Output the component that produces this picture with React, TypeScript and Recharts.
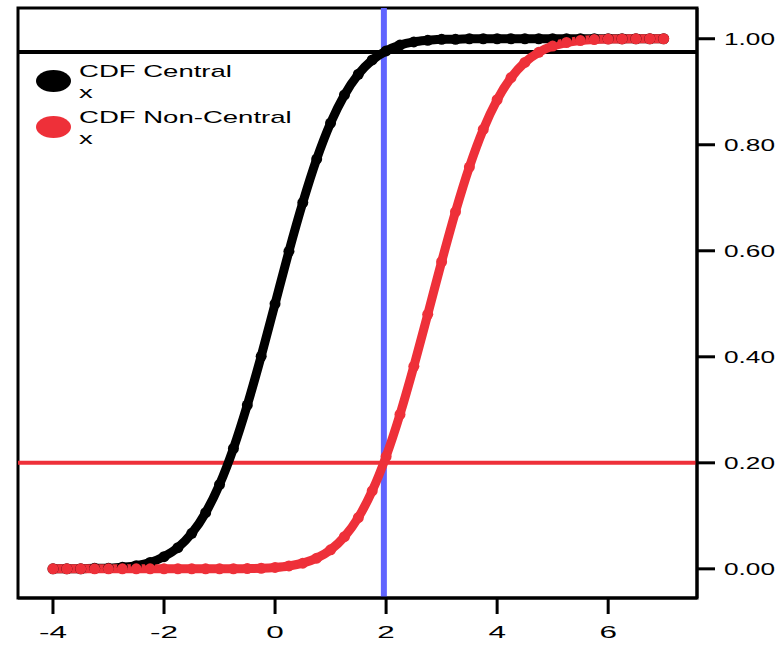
import React from 'react';
import { LineChart, Line, XAxis, YAxis, ReferenceLine, ReferenceArea, Legend } from 'recharts';

// x grid and the two CDF curves
const xValues = [
  -4, -3.75, -3.5, -3.25, -3, -2.75, -2.5, -2.25, -2, -1.75, -1.5, -1.25, -1, -0.75, -0.5,
  -0.25, 0, 0.25, 0.5, 0.75, 1, 1.25, 1.5, 1.75, 2, 2.25, 2.5, 2.75, 3, 3.25,
  3.5, 3.75, 4, 4.25, 4.5, 4.75, 5, 5.25, 5.5, 5.75, 6, 6.25, 6.5, 6.75, 7,
];
const centralCdf = [
  0, 0, 0, 0.001, 0.001, 0.003, 0.006, 0.012, 0.023, 0.04, 0.067, 0.106, 0.159, 0.227, 0.309,
  0.401, 0.5, 0.599, 0.691, 0.773, 0.841, 0.894, 0.933, 0.96, 0.977, 0.988, 0.994, 0.997, 0.999, 0.999,
  1, 1, 1, 1, 1, 1, 1, 1, 1, 1, 1, 1, 1, 1, 1,
];
const nonCentralCdf = [
  0, 0, 0, 0, 0, 0, 0, 0, 0, 0, 0, 0, 0.0001, 0.0002, 0.0005,
  0.0011, 0.0026, 0.0054, 0.0107, 0.0202, 0.0359, 0.0606, 0.0968, 0.1469, 0.2119, 0.2912, 0.3821, 0.4801, 0.5793, 0.6736,
  0.758, 0.8289, 0.8849, 0.9265, 0.9554, 0.9744, 0.9861, 0.9929, 0.9965, 0.9984, 0.9993, 0.9997, 0.9999, 1, 1,
];
const xTicks = [-4, -2, 0, 2, 4, 6];
const yTicks = [0, 0.2, 0.4, 0.6, 0.8, 1];
const criticalX = 1.96;
const alphaLevel = 0.2;
const centralAtCritical = 0.975;

const X_DOMAIN = [-4.63, 7.6];
const Y_DOMAIN = [-0.055, 1.058];

const RED = '#ee3039';
const BLUE = '#6064ff';
const FONT = '"Liberation Sans", Arial, Helvetica, sans-serif';

const data = xValues.map((x, i) => ({ x, central: centralCdf[i], nonCentral: nonCentralCdf[i] }));

// the original text is stretched sideways, so scale it
function XTick(props: any) {
  const { x, y, payload } = props;
  return (
    <g transform={`translate(${x},${y}) scale(1.85,1)`}>
      <text x={0} y={0} dy="0.71em" textAnchor="middle" fontSize={17} fontFamily={FONT} fill="#000">
        {payload.value}
      </text>
    </g>
  );
}

function YTick(props: any) {
  const { x, y, payload } = props;
  return (
    <g transform={`translate(${x},${y}) scale(1.54,1)`}>
      <text x={0} y={0} dy="0.355em" textAnchor="start" fontSize={17} fontFamily={FONT} fill="#000">
        {Number(payload.value).toFixed(2)}
      </text>
    </g>
  );
}

function LegendContent(props: any) {
  const items = props.payload || [];
  return (
    <svg width={320} height={160} style={{ display: 'block' }}>
      {items.map((item: any, i: number) => {
        const cy = 81 + i * 46;
        return (
          <g key={item.value}>
            <ellipse cx={53.5} cy={cy} rx={17.5} ry={11} fill={item.color} />
            <g transform={`translate(79,${cy - 4}) scale(1.62,1)`}>
              <text x={0} y={0} fontSize={17} fontFamily={FONT} fill="#000">{item.value}</text>
            </g>
            <g transform={`translate(79,${cy + 17}) scale(1.62,1)`}>
              <text x={0} y={0} fontSize={17} fontFamily={FONT} fill="#000">x</text>
            </g>
          </g>
        );
      })}
    </svg>
  );
}

export default function App() {
  return (
    <div style={{ position: 'absolute', left: 0, top: 0, background: '#fff' }}>
      <LineChart width={784} height={646} data={data} margin={{ top: 8, right: 0, bottom: 0, left: 18 }}>
        <XAxis
          dataKey="x"
          type="number"
          domain={X_DOMAIN}
          ticks={xTicks}
          height={48}
          axisLine={{ stroke: '#000', strokeWidth: 3 }}
          tickLine={{ stroke: '#000', strokeWidth: 3 }}
          tickSize={16}
          tickMargin={12}
          tick={<XTick />}
          allowDataOverflow
        />
        <YAxis
          orientation="right"
          type="number"
          domain={Y_DOMAIN}
          ticks={yTicks}
          width={87}
          axisLine={{ stroke: '#000', strokeWidth: 3 }}
          tickLine={{ stroke: '#000', strokeWidth: 3 }}
          tickSize={18}
          tickMargin={9}
          tick={<YTick />}
          allowDataOverflow
        />
        {/* plot frame */}
        <ReferenceArea
          x1={X_DOMAIN[0]}
          x2={X_DOMAIN[1]}
          y1={Y_DOMAIN[0]}
          y2={Y_DOMAIN[1]}
          stroke="#000"
          strokeWidth={3}
          fill="none"
          fillOpacity={0}
          ifOverflow="visible"
        />
        <ReferenceLine y={centralAtCritical} stroke="#000" strokeWidth={4} />
        <ReferenceLine y={alphaLevel} stroke={RED} strokeWidth={4} />
        <ReferenceLine x={criticalX} stroke={BLUE} strokeWidth={6} />
        <Legend
          layout="horizontal"
          verticalAlign="middle"
          align="center"
          wrapperStyle={{ top: 0, left: 0, width: 320, height: 160 }}
          content={<LegendContent />}
        />
        <Line
          type="monotone"
          dataKey="central"
          name="CDF Central"
          stroke="#000"
          strokeWidth={9}
          dot={{ r: 5.5, fill: '#000', stroke: 'none' }}
          activeDot={false}
          isAnimationActive={false}
        />
        <Line
          type="monotone"
          dataKey="nonCentral"
          name="CDF Non-Central"
          stroke={RED}
          strokeWidth={9}
          dot={{ r: 5.5, fill: RED, stroke: 'none' }}
          activeDot={false}
          isAnimationActive={false}
        />
      </LineChart>
    </div>
  );
}
